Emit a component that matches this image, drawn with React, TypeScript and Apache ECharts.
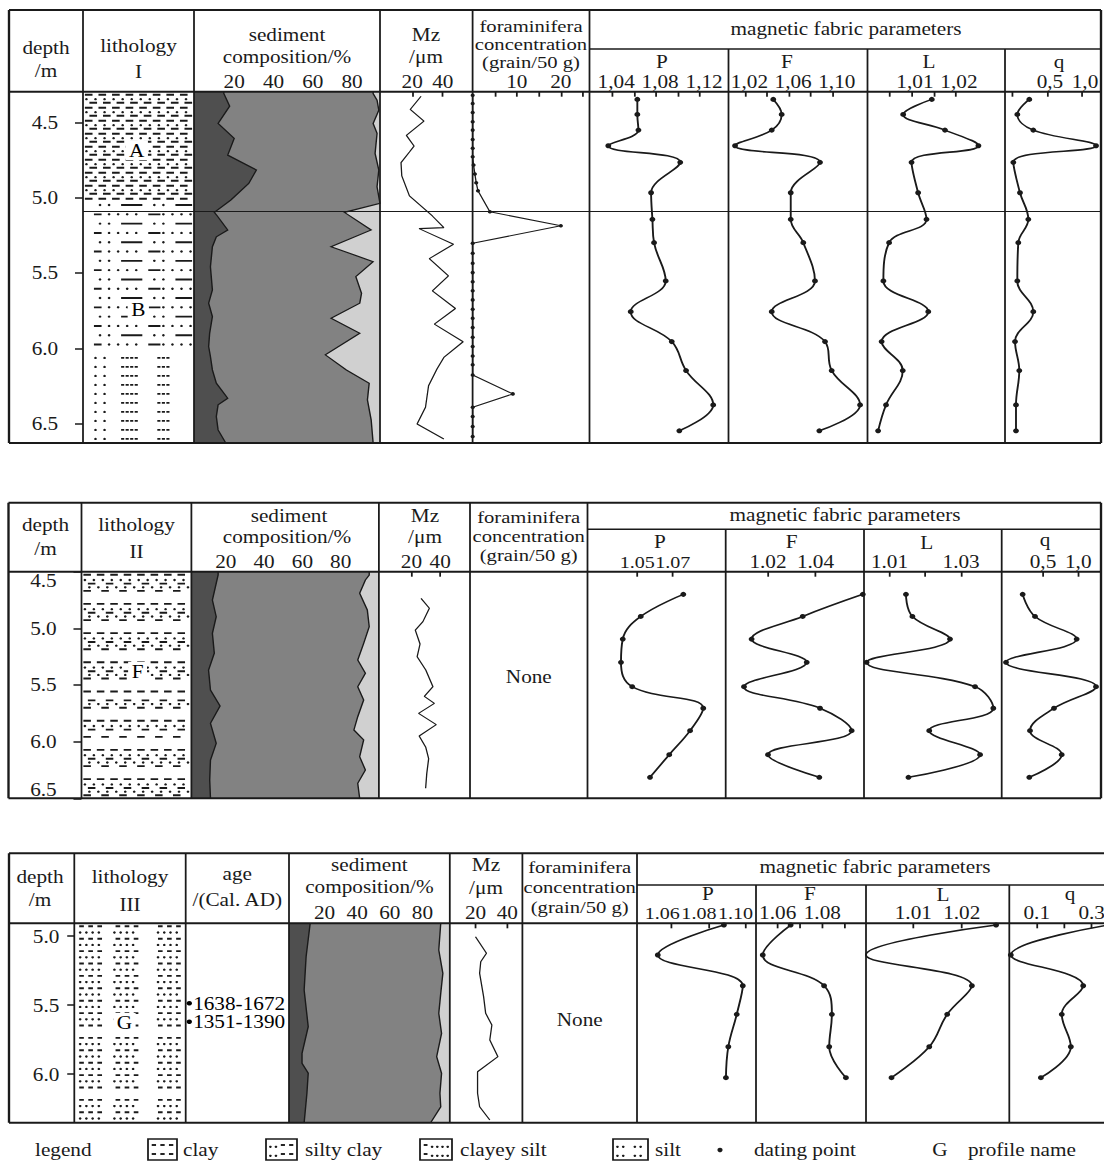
import React, { useEffect, useRef } from 'react';
import * as echarts from 'echarts';

// ================= Profile I =================
const p1DepthTicks = [4.5, 5.0, 5.5, 6.0, 6.5];
const p1UnitBoundary = 5.09;
const p1ClayDepth = [4.296, 4.308, 4.392, 4.507, 4.606, 4.717, 4.816, 4.905, 5.015, 5.097, 5.121, 5.214, 5.259, 5.325, 5.458, 5.612, 5.7, 5.789, 5.9, 5.988, 6.054, 6.143, 6.231, 6.331, 6.375, 6.452, 6.541, 6.628];
const p1Clay = [14.7, 14.7, 17.7, 11.8, 20, 16.7, 31.3, 27.4, 18.3, 9.9, 11.4, 16.7, 10.9, 8.9, 7.9, 8.9, 7, 8.9, 7.5, 7, 7.9, 8.9, 10.9, 16.7, 11.8, 10.9, 11.8, 15.7];
const p1SandDepth = [4.296, 4.308, 4.352, 4.418, 4.507, 4.573, 4.706, 4.816, 4.927, 5.037, 5.097, 5.214, 5.325, 5.424, 5.524, 5.634, 5.7, 5.8, 5.9, 6.043, 6.143, 6.231, 6.342, 6.474, 6.628];
const p1Sand = [90.7, 90.7, 92.7, 93.6, 90.7, 92.7, 91.7, 93.6, 92.7, 94.2, 76.1, 89.7, 69.3, 90.7, 81.9, 84.8, 83.9, 69.3, 83.9, 66.4, 77.1, 88.7, 87.8, 89.7, 90.7];
const p1MzDepth = [4.326, 4.414, 4.491, 4.586, 4.657, 4.696, 4.767, 4.855, 4.988, 5.121, 5.198, 5.205, 5.309, 5.404, 5.519, 5.618, 5.735, 5.839, 5.956, 6.06, 6.137, 6.248, 6.391, 6.502, 6.601];
const p1Mz = [25.8, 18.7, 27.7, 16.2, 21.2, 18.2, 12.7, 13.2, 18.2, 33.2, 40.7, 24.5, 47, 31.2, 43.7, 33.2, 48.3, 34.5, 53.3, 40.7, 36.2, 30.7, 28.7, 23.2, 40.7];
const p1ForamDepth = [4.319, 4.374, 4.434, 4.496, 4.551, 4.613, 4.672, 4.728, 4.783, 4.843, 4.9, 4.954, 5.093, 5.186, 5.302, 5.369, 5.435, 5.497, 5.557, 5.617, 5.678, 5.74, 5.8, 5.862, 5.926, 5.988, 6.05, 6.109, 6.176, 6.302, 6.39, 6.452, 6.519, 6.585];
const p1Foram = [0, 0, 0, 0, 0, 0, 0, 0, 0.2, 0.5, 0.8, 1.2, 3.9, 20, 0, 0, 0, 0, 0, 0, 0, 0, 0, 0, 0, 0, 0, 0, 0, 9.1, 0, 0, 0, 0];
const p1MagDepth = [4.347, 4.447, 4.551, 4.655, 4.765, 4.967, 5.143, 5.298, 5.552, 5.756, 5.955, 6.147, 6.375, 6.547];
const p1P = [1.063, 1.063, 1.064, 1.0366, 1.102, 1.0755, 1.0767, 1.0782, 1.0888, 1.057, 1.0943, 1.1073, 1.132, 1.1012];
const p1F = [1.0456, 1.0533, 1.0442, 1.0106, 1.0884, 1.0616, 1.0616, 1.0731, 1.0838, 1.0442, 1.093, 1.0991, 1.1251, 1.0878];
const p1L = [1.0145, 1.008, 1.0175, 1.0251, 1.0099, 1.0114, 1.0133, 1.0048, 1.0035, 1.0137, 1.0031, 1.0079, 1.0041, 1.0023];
const p1Q = [0.247, 0.076, 0.304, 1.2, 0.019, 0.114, 0.233, 0.09, 0.076, 0.304, 0.043, 0.104, 0.057, 0.057];
const p1Litho = [[4.296, 5.035, 0], [5.035, 6.03, 1], [6.03, 6.628, 2]];
const p1Units = [[0.484, 4.684, 'A'], [0.498, 5.743, 'B']];

// ================= Profile II =================
const p2DepthTicks = [4.5, 5.0, 5.5, 6.0, 6.5];
const p2ClayDepth = [4.5, 4.529, 4.75, 4.897, 5.044, 5.22, 5.368, 5.544, 5.685, 5.838, 6.015, 6.162, 6.338, 6.5];
const p2Clay = [16, 16, 13, 15, 13, 14, 11, 12, 17, 12, 15, 12, 11.6, 12];
const p2SandDepth = [4.5, 4.529, 4.573, 4.691, 4.838, 4.985, 5.132, 5.279, 5.397, 5.515, 5.632, 5.78, 5.897, 5.985, 6.133, 6.25, 6.368, 6.5];
const p2Sand = [94.9, 94.9, 92.9, 89.9, 93.9, 94.9, 92, 88.9, 92.9, 88.9, 92, 88.9, 86.9, 92, 89.9, 92.9, 88.9, 89.9];
const p2MzDepth = [4.735, 4.823, 4.941, 5.015, 5.138, 5.25, 5.368, 5.515, 5.6, 5.662, 5.75, 5.85, 5.95, 6.05, 6.15, 6.28, 6.412];
const p2Mz = [26.7, 32.5, 28, 22.7, 26, 24, 30, 35, 29, 36, 25, 37.3, 25.4, 30, 32, 30.7, 29.9];
const p2MagDepth = [4.7, 4.895, 5.095, 5.3, 5.515, 5.705, 5.903, 6.115, 6.315];
const p2P = [1.0759, 1.052, 1.0419, 1.0409, 1.0472, 1.0871, 1.0797, 1.068, 1.0572];
const p2F = [1.0599, 1.0346, 1.0131, 1.0363, 1.0099, 1.0419, 1.0552, 1.02, 1.0416];
const p2L = [1.0146, 1.0164, 1.0269, 1.0036, 1.0339, 1.039, 1.0211, 1.0353, 1.0153];
const p2Q = [0.212, 0.387, 0.977, -0.024, 1.251, 0.656, 0.316, 0.765, 0.306];
const p2Litho = [[4.5, 6.5, 3]];
const p2Units = [[0.51, 5.383, 'F']];

// ================= Profile III =================
const p3DepthTicks = [5.0, 5.5, 6.0];
const p3ClayDepth = [4.9065, 5.149, 5.39, 5.656, 5.849, 5.921, 5.993, 6.138, 6.3514];
const p3Clay = [11.2, 8.7, 7.5, 10, 6.2, 6.2, 10, 9.2, 7.5];
const p3SandDepth = [4.9065, 5.1, 5.269, 5.414, 5.559, 5.704, 5.873, 5.993, 6.138, 6.236, 6.3514];
const p3Sand = [91.2, 90, 92.5, 91.2, 90, 91.7, 88.7, 91.7, 90.7, 91.2, 85];
const p3MzDepth = [5.004, 5.124, 5.185, 5.269, 5.438, 5.559, 5.643, 5.752, 5.873, 5.982, 6.138, 6.236, 6.332];
const p3Mz = [20, 26.9, 23.3, 22.6, 25.1, 26.4, 30.3, 29, 34.1, 21.3, 21.3, 22.6, 29];
const p3MagDepth = [4.919, 5.136, 5.359, 5.566, 5.801, 6.025];
const p3P = [1.0885, 1.0524, 1.0988, 1.0955, 1.0909, 1.0896];
const p3F = [1.0658, 1.0533, 1.0808, 1.0843, 1.0831, 1.0906];
const p3L = [1.0271, 1.0002, 1.0221, 1.017, 1.0133, 1.0055];
const p3Q = [0.36, 0.0055, 0.269, 0.191, 0.224, 0.115];
const p3AgeDepth = [5.486, 5.62];
const p3Ages = ['1638-1672', '1351-1390'];
const p3Litho = [[4.9065, 6.3514, 4]];
const p3Units = [[0.45, 5.629, 'G']];

// ================= drawing constants =================
const S = 1.18; // horizontal stretch of the original figure
const W = 1104;
const H = 1162;
const X = (v: number) => v / S;
const FONT = '"Liberation Serif", "Times New Roman", serif';
const INK = '#1a1a1a';
const C_DARK = '#4f4f4f';
const C_MID = '#828282';
const C_LIGHT = '#d0d0d0';

const L1 = { top: 10, sub: 49, head: 91.7, bottom: 443, xs: [9, 83, 194, 380, 472.6, 589.5, 728.5, 867.5, 1005, 1101], mag: 5 };
const L2 = { top: 502.7, sub: 529.3, head: 571.7, bottom: 798.3, xs: [8.5, 81.5, 191.4, 378.9, 470, 587.5, 725.7, 864, 1001.7, 1101], mag: 5 };
const L3 = { top: 853.3, sub: 885, head: 923.3, bottom: 1122.7, xs: [9, 74.3, 185.7, 289, 449.8, 522.4, 637, 756, 866, 1009.3, 1104], mag: 6 };

const D24 = '== == == == == == == == ';
const DOT24 = '. . . . . . . . . . . . ';
const PATTERNS: any[] = [
  { step: 6.5, offset: 3, rows: [[[D24, 0]], [[DOT24, -2], [' == == == == == == == ==', 1.6]]] },
  { step: 9.3, offset: 2, rows: [[['   . .  =====  . .  ====', 0]], [['  == . . . .  ===. . . .', 0]]] },
  { step: 9, offset: 5, rows: [[['  . .   ----    ---     ', 0]]] },
  { step: 7.3, offset: 3, rows: [[[D24, 0]], [['. . . . . . . . . . . . ', -2], [' ==  ==  ==  ==  ==  == ', 1.6]], [[' . . . . . . . . . . . .', -2], ['==  ==  ==  ==  ==  ==  ', 1.6]], []] },
  { step: 6.2, offset: 3, rows: [[[' == == ==    == == ==      == == == ', 0]], [[' . . . .    . . . .       . . . .  ', 0]]] },
];

function rowShapes(str: string, x0: number, width: number, y: number, out: any[], extra: any = {}) {
  const n = str.length;
  const cw = width / n;
  let i = 0;
  while (i < n) {
    const c = str[i];
    if (c === '=') {
      let j = i;
      while (j + 1 < n && str[j + 1] === '=') j++;
      out.push({ type: 'line', ...extra, shape: { x1: x0 + i * cw + 0.6, y1: y, x2: x0 + (j + 1) * cw - 0.6, y2: y }, style: { stroke: INK, lineWidth: 1.9 } });
      i = j + 1;
      continue;
    }
    if (c === '-') {
      out.push({ type: 'line', ...extra, shape: { x1: x0 + i * cw + 0.6, y1: y, x2: x0 + (i + 1) * cw - 0.6, y2: y }, style: { stroke: INK, lineWidth: 1.9 } });
    } else if (c === '.') {
      out.push({ type: 'circle', ...extra, shape: { cx: x0 + (i + 0.5) * cw, cy: y, r: 1.15 }, style: { fill: INK } });
    }
    i++;
  }
}

const lithRender = (params: any, api: any) => {
  const cs = params.coordSys;
  const yTop = api.coord([0, api.value(0)])[1];
  const yBot = api.coord([0, api.value(1)])[1];
  const pat = PATTERNS[api.value(2)];
  const children: any[] = [];
  let k = 0;
  for (let y = yTop + pat.offset; y <= yBot - 2; y += pat.step, k++) {
    const row = pat.rows[k % pat.rows.length];
    row.forEach((r: any) => rowShapes(r[0], cs.x + 1, cs.width - 2, y + r[1], children));
  }
  return { type: 'group', children };
};

const fmtInt = (v: number) => String(Math.round(v));
const fmtC2 = (v: number) => v.toFixed(2).replace('.', ',');
const fmtC1 = (v: number) => v.toFixed(1).replace('.', ',');
const fmtD2 = (v: number) => v.toFixed(2);
const fmtD1 = (v: number) => v.toFixed(1);

// column specs: layout, column index, x range, ticks, labels, formatter
const COLS: any[] = [
  // Profile I (grids 0-7)
  { L: L1, c: 1, xr: [0, 1], yr: [4.296, 6.628], depth: { ticks: p1DepthTicks, margin: 21, tl: 6.8 } },
  { L: L1, c: 2, xr: [-0.46, 94.2], yr: [4.296, 6.628], ticks: [20, 40, 60, 80], labels: [20, 40, 60, 80], fmt: fmtInt },
  { L: L1, c: 3, xr: [-1.05, 59.5], yr: [4.296, 6.628], ticks: [20, 40], labels: [20, 40], fmt: fmtInt },
  { L: L1, c: 4, xr: [-0.02, 26.5], yr: [4.296, 6.628], ticks: [5, 10, 15, 20, 25], labels: [10, 20], fmt: fmtInt },
  { L: L1, c: 5, xr: [1.0195, 1.1459], yr: [4.296, 6.628], ticks: [1.04, 1.06, 1.08, 1.1, 1.12], labels: [1.04, 1.08, 1.12], fmt: fmtC2, pad: [0, 0, 0, 7] },
  { L: L1, c: 6, xr: [1.0046, 1.1319], yr: [4.296, 6.628], ticks: [1.02, 1.04, 1.06, 1.08, 1.1], labels: [1.02, 1.06, 1.1], fmt: fmtC2, pad: [0, 0, 0, 7] },
  { L: L1, c: 7, xr: [0.99989, 1.03114], yr: [4.296, 6.628], ticks: [1.005, 1.01, 1.015, 1.02], labels: [1.01, 1.02], fmt: fmtC2, pad: [0, 0, 0, 5] },
  { L: L1, c: 8, xr: [-0.1, 1.271], yr: [4.296, 6.628], ticks: [0, 0.5, 1], labels: [0.5, 1], fmt: fmtC1, pad: [0, 0, 0, 5] },
  // Profile II (grids 8-14)
  { L: L2, c: 1, xr: [0, 1], yr: [4.5, 6.5], depth: { ticks: p2DepthTicks, margin: 21, tl: 6.8, edge: true } },
  { L: L2, c: 2, xr: [2.04, 99.95], yr: [4.5, 6.5], ticks: [20, 40, 60, 80], labels: [20, 40, 60, 80], fmt: fmtInt },
  { L: L2, c: 3, xr: [-2.65, 60.8], yr: [4.5, 6.5], ticks: [20, 40], labels: [20, 40], fmt: fmtInt },
  { L: L2, c: 5, xr: [1.0221, 1.0997], yr: [4.5, 6.5], ticks: [1.05, 1.07], labels: [1.05, 1.07], fmt: fmtD2, fs: 17 },
  { L: L2, c: 6, xr: [1.0022, 1.0604], yr: [4.5, 6.5], ticks: [1.02, 1.04], labels: [1.02, 1.04], fmt: fmtD2 },
  { L: L2, c: 7, xr: [1.00288, 1.04134], yr: [4.5, 6.5], ticks: [1.01, 1.02, 1.03], labels: [1.01, 1.03], fmt: fmtD2 },
  { L: L2, c: 8, xr: [-0.085, 1.322], yr: [4.5, 6.5], ticks: [0.5, 1], labels: [0.5, 1], fmt: fmtC1 },
  // Profile III (grids 15-22)
  { L: L3, c: 1, xr: [0, 1], yr: [4.9065, 6.3514], depth: { ticks: p3DepthTicks, margin: 12.7, tl: 6 } },
  { L: L3, c: 2, xr: [0, 1], yr: [4.9065, 6.3514] },
  { L: L3, c: 3, xr: [-1.78, 96.75], yr: [4.9065, 6.3514], ticks: [20, 40, 60, 80], labels: [20, 40, 60, 80], fmt: fmtInt, margin: 2 },
  { L: L3, c: 4, xr: [3.84, 49.5], yr: [4.9065, 6.3514], ticks: [20, 40], labels: [20, 40], fmt: fmtInt, margin: 2 },
  { L: L3, c: 6, xr: [1.04106, 1.10601], yr: [4.9065, 6.3514], ticks: [1.06, 1.08, 1.1], labels: [1.06, 1.08, 1.1], fmt: fmtD2, pad: [0, 16, 0, 0], margin: 2, fs: 17 },
  { L: L3, c: 7, xr: [1.05027, 1.0996], yr: [4.9065, 6.3514], ticks: [1.06, 1.07, 1.08, 1.09], labels: [1.06, 1.08], fmt: fmtD2, margin: 2 },
  { L: L3, c: 8, xr: [1.00023, 1.02983], yr: [4.9065, 6.3514], ticks: [1.01, 1.02], labels: [1.01, 1.02], fmt: fmtD2, margin: 2 },
  { L: L3, c: 9, xr: [0, 0.3447], yr: [4.9065, 6.3514], ticks: [0.1, 0.2, 0.3], labels: [0.1, 0.3], fmt: fmtD1, margin: 2 },
];

function buildAxes() {
  const grid: any[] = [];
  const xAxis: any[] = [];
  const yAxis: any[] = [];
  COLS.forEach((col, i) => {
    const L = col.L;
    grid.push({
      left: X(L.xs[col.c]), width: X(L.xs[col.c + 1] - L.xs[col.c]),
      top: L.head, height: L.bottom - L.head,
      containLabel: false, outerBoundsMode: 'none', show: false,
    });
    if (col.ticks) {
      xAxis.push({
        type: 'value', gridIndex: i, min: col.xr[0], max: col.xr[1], position: 'top',
        axisLine: { show: false }, splitLine: { show: false },
        axisTick: { show: true, inside: true, length: 5, lineStyle: { color: INK, width: 1.5 }, customValues: col.ticks },
        axisLabel: {
          show: true, customValues: col.labels, margin: col.margin == null ? 1 : col.margin, hideOverlap: false,
          fontSize: col.fs || 18, fontFamily: FONT, color: INK, formatter: col.fmt, padding: col.pad || 0,
        },
      });
    } else {
      xAxis.push({ type: 'value', gridIndex: i, min: col.xr[0], max: col.xr[1], show: false });
    }
    if (col.depth) {
      yAxis.push({
        type: 'value', gridIndex: i, min: col.yr[0], max: col.yr[1], inverse: true, position: 'left',
        axisLine: { show: false }, splitLine: { show: false },
        axisTick: { show: true, length: col.depth.tl, lineStyle: { color: INK, width: 1.5 }, customValues: col.depth.ticks },
        axisLabel: {
          show: true, customValues: col.depth.ticks, margin: col.depth.margin, hideOverlap: false,
          fontSize: 18, fontFamily: FONT, color: INK, formatter: fmtD1,
          verticalAlignMinLabel: col.depth.edge ? 'top' : undefined,
          verticalAlignMaxLabel: col.depth.edge ? 'bottom' : undefined,
        },
      });
    } else {
      yAxis.push({ type: 'value', gridIndex: i, min: col.yr[0], max: col.yr[1], inverse: true, show: false });
    }
  });
  return { grid, xAxis, yAxis };
}

const zip = (vals: number[], depths: number[]) => vals.map((v, i) => [v, depths[i]]);

function areaPoly(gi: number, depths: number[], vals: number[], edge: number, color: string, stroke: boolean) {
  return {
    type: 'custom', xAxisIndex: gi, yAxisIndex: gi, silent: true, clip: true, z: 2,
    data: [[vals[0], depths[0]]],
    renderItem: (params: any, api: any) => {
      const line = depths.map((d, i) => api.coord([vals[i], d]));
      const pts = [api.coord([edge, depths[0]]), ...line, api.coord([edge, depths[depths.length - 1]])];
      const children: any[] = [{ type: 'polygon', shape: { points: pts }, style: { fill: color } }];
      if (stroke) children.push({ type: 'polyline', shape: { points: line }, style: { stroke: INK, lineWidth: 1.2, fill: null } });
      return { type: 'group', children };
    },
  };
}

function sediment(gi: number, xr: number[], clayD: number[], clay: number[], sandD: number[], sand: number[]) {
  return [
    areaPoly(gi, sandD, sand, xr[1], C_LIGHT, false),
    areaPoly(gi, sandD, sand, xr[0], C_MID, true),
    areaPoly(gi, clayD, clay, xr[0], C_DARK, true),
  ];
}

function curve(gi: number, depths: number[], vals: number[], o: any) {
  return {
    type: 'line', xAxisIndex: gi, yAxisIndex: gi, data: zip(vals, depths), silent: true, clip: true, z: 4,
    smooth: o.smooth || false, symbol: o.size ? 'circle' : 'none', symbolSize: o.size || 0, showSymbol: !!o.size,
    lineStyle: { color: INK, width: o.width || 1.2 }, itemStyle: { color: INK, opacity: 1 },
  };
}

function lith(gi: number, data: any[]) {
  return { type: 'custom', xAxisIndex: gi, yAxisIndex: gi, data, renderItem: lithRender, silent: true, clip: true, z: 2 };
}

function unitLabels(gi: number, data: any[]) {
  return {
    type: 'scatter', xAxisIndex: gi, yAxisIndex: gi, data, symbolSize: 1, silent: true, z: 5,
    itemStyle: { color: '#ffffff', opacity: 1 },
    label: { show: true, position: 'inside', formatter: (p: any) => p.data[2], fontSize: 18, fontFamily: FONT, color: '#000', backgroundColor: '#fff', padding: [1, 3] },
  };
}

function boundary(gi: number) {
  return {
    type: 'line', xAxisIndex: gi, yAxisIndex: gi, data: [], silent: true, z: 6,
    markLine: { silent: true, symbol: ['none', 'none'], label: { show: false }, lineStyle: { color: INK, width: 1, type: 'solid' }, data: [{ yAxis: p1UnitBoundary }] },
  };
}

function buildSeries() {
  const s: any[] = [];
  const MAG = { smooth: 0.4, size: 5, width: 1.6 };
  // Profile I
  s.push(lith(0, p1Litho), unitLabels(0, p1Units));
  s.push(...sediment(1, COLS[1].xr, p1ClayDepth, p1Clay, p1SandDepth, p1Sand));
  s.push(curve(2, p1MzDepth, p1Mz, { width: 1.1 }));
  s.push(curve(3, p1ForamDepth, p1Foram, { size: 3.5, width: 1.1 }));
  s.push(curve(4, p1MagDepth, p1P, MAG), curve(5, p1MagDepth, p1F, MAG), curve(6, p1MagDepth, p1L, MAG), curve(7, p1MagDepth, p1Q, MAG));
  for (let g = 0; g <= 7; g++) s.push(boundary(g));
  // Profile II
  s.push(lith(8, p2Litho), unitLabels(8, p2Units));
  s.push(...sediment(9, COLS[9].xr, p2ClayDepth, p2Clay, p2SandDepth, p2Sand));
  s.push(curve(10, p2MzDepth, p2Mz, { width: 1.1 }));
  s.push(curve(11, p2MagDepth, p2P, MAG), curve(12, p2MagDepth, p2F, MAG), curve(13, p2MagDepth, p2L, MAG), curve(14, p2MagDepth, p2Q, MAG));
  // Profile III
  s.push(lith(15, p3Litho), unitLabels(15, p3Units));
  s.push({
    type: 'scatter', xAxisIndex: 16, yAxisIndex: 16, silent: true, z: 5,
    data: p3AgeDepth.map((d, i) => [0.035, d, p3Ages[i]]), symbolSize: 4.5, itemStyle: { color: '#000', opacity: 1 },
    label: { show: true, position: 'right', distance: 1, formatter: (p: any) => p.data[2], fontSize: 18, fontFamily: FONT, color: '#000' },
  });
  s.push(...sediment(17, COLS[17].xr, p3ClayDepth, p3Clay, p3SandDepth, p3Sand));
  s.push(curve(18, p3MzDepth, p3Mz, { width: 1.1 }));
  s.push(curve(19, p3MagDepth, p3P, MAG), curve(20, p3MagDepth, p3F, MAG), curve(21, p3MagDepth, p3L, MAG), curve(22, p3MagDepth, p3Q, MAG));
  return s;
}

// ---------- header / frame graphics ----------
const H1: any[] = [
  ['depth', 46, 48], ['/m', 46, 71], ['lithology', 138.5, 46], ['I', 138.5, 72],
  ['sediment', 287, 35], ['composition/%', 287, 57], ['Mz', 426, 35], ['/\u03bcm', 426, 57],
  ['foraminifera', 531, 26, 17.5], ['concentration', 531, 44, 17.5], ['(grain/50 g)', 531, 62, 17.5],
  ['magnetic fabric parameters', 846, 29], ['P', 662, 62], ['F', 787, 62], ['L', 929, 62], ['q', 1059, 62],
];
const H2: any[] = [
  ['depth', 45.5, 525], ['/m', 45.5, 549], ['lithology', 136.5, 525], ['II', 136.5, 552],
  ['sediment', 289, 516], ['composition/%', 287, 537], ['Mz', 425, 516], ['/\u03bcm', 425, 537],
  ['foraminifera', 528.7, 516.7, 17.5], ['concentration', 528.7, 536, 17.5], ['(grain/50 g)', 528.7, 555, 17.5],
  ['magnetic fabric parameters', 845, 515], ['P', 660, 542], ['F', 791.7, 542], ['L', 926.7, 543], ['q', 1045, 540],
  ['None', 528.8, 676.7],
];
const H3: any[] = [
  ['depth', 40, 876.7], ['/m', 40, 900], ['lithology', 130, 876.7], ['III', 130, 905],
  ['age', 237.3, 873.3], ['/(Cal. AD)', 237.3, 900],
  ['sediment', 369.4, 865], ['composition/%', 369.4, 886.7], ['Mz', 486, 865], ['/\u03bcm', 486, 888],
  ['foraminifera', 579.7, 866.7, 17.5], ['concentration', 579.7, 886.7, 17.5], ['(grain/50 g)', 579.7, 906.7, 17.5],
  ['magnetic fabric parameters', 875, 866.7], ['P', 708, 893.3], ['F', 810, 893.3], ['L', 943, 895], ['q', 1070, 893.3],
  ['None', 579.7, 1020],
];
const LEGEND_TEXT: any[] = [
  ['legend', 35, 'left'], ['clay', 183, 'left'], ['silty clay', 305, 'left'], ['clayey silt', 460, 'left'],
  ['silt', 655, 'left'], ['dating point', 754, 'left'], ['G', 940, 'center'], ['profile name', 968, 'left'],
];
const LEGEND_Y = 1150;

function txt(t: string, x: number, y: number, align = 'center', fs = 18) {
  return { type: 'text', z: 100, silent: true, x: X(x), y, style: { text: t, fontSize: fs, fontFamily: FONT, fill: INK, align, verticalAlign: 'middle' } };
}

function frame(L: any, rightOpen: boolean) {
  const els: any[] = [];
  const xs = L.xs;
  const x0 = xs[0];
  const xN = xs[xs.length - 1];
  const ln = (a: number, b: number, c: number, d: number, w: number) =>
    els.push({ type: 'line', z: 100, silent: true, shape: { x1: X(a), y1: b, x2: X(c), y2: d }, style: { stroke: INK, lineWidth: w } });
  ln(x0, L.top, xN, L.top, 2);
  ln(x0, L.bottom, xN, L.bottom, 2);
  ln(x0, L.head, xN, L.head, 2);
  ln(x0, L.top, x0, L.bottom, 2);
  if (!rightOpen) ln(xN, L.top, xN, L.bottom, 2);
  for (let i = 1; i < xs.length - 1; i++) ln(xs[i], i > L.mag ? L.sub : L.top, xs[i], L.bottom, 1.5);
  ln(xs[L.mag], L.sub, xN, L.sub, 1.5);
  return els;
}

function legendGraphics() {
  const els: any[] = [];
  LEGEND_TEXT.forEach((t) => els.push(txt(t[0], t[1], LEGEND_Y, t[2])));
  const boxes: any[] = [
    [148, 177, [['== == ==', 0]]],
    [266, 297, [['. .      ', -1.8], ['. .      ', 1.8], ['    == ==', 0]]],
    [420, 452, [['==        ', 0], ['   . . . .', -1.8], ['   . . . .', 1.8]]],
    [613, 648, [['. .   . . ', -1.8], ['. .   . . ', 1.8]]],
  ];
  boxes.forEach((b) => {
    els.push({ type: 'rect', z: 100, silent: true, shape: { x: X(b[0]), y: 1139, width: X(b[1] - b[0]), height: 21 }, style: { fill: '#fff', stroke: INK, lineWidth: 1.5 } });
    [1145, 1154].forEach((yy) => b[2].forEach((r: any) => rowShapes(r[0], X(b[0] + 3), X(b[1] - b[0] - 6), yy + r[1], els, { z: 101, silent: true })));
  });
  els.push({ type: 'circle', z: 100, silent: true, shape: { cx: X(720), cy: LEGEND_Y, r: 2.2 }, style: { fill: INK } });
  return els;
}

function buildGraphics() {
  const els: any[] = [];
  els.push(...frame(L1, false), ...frame(L2, false), ...frame(L3, true));
  [...H1, ...H2, ...H3].forEach((h) => els.push(txt(h[0], h[1], h[2], 'center', h[3] || 18)));
  els.push(...legendGraphics());
  return els;
}

export default function App() {
  const ref = useRef<HTMLDivElement>(null);
  useEffect(() => {
    document.body.style.margin = '0';
    if (!ref.current) return;
    const chart = echarts.init(ref.current, null, { renderer: 'svg' });
    const { grid, xAxis, yAxis } = buildAxes();
    chart.setOption({
      animation: false,
      backgroundColor: '#fff',
      textStyle: { fontFamily: FONT },
      grid, xAxis, yAxis,
      series: buildSeries(),
      graphic: { elements: buildGraphics() },
    });
    return () => chart.dispose();
  }, []);
  return (
    <div
      ref={ref}
      style={{ width: `${Math.round(X(W))}px`, height: `${H}px`, transform: `scaleX(${S})`, transformOrigin: '0 0' }}
    />
  );
}
